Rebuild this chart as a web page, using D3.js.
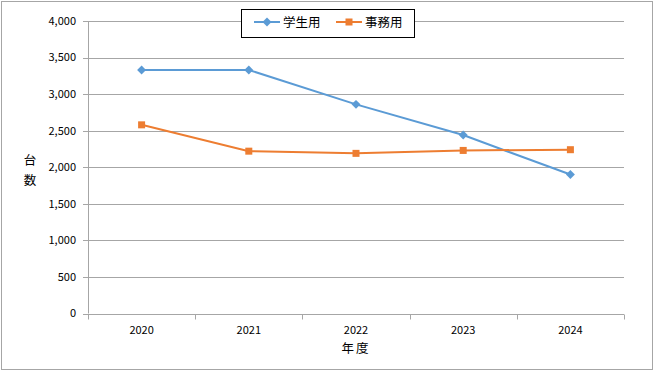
<!DOCTYPE html>
<html>
<head>
<meta charset="utf-8">
<script src="https://cdn.jsdelivr.net/npm/d3@7"></script>
<style>
    body { margin: 0; background: #fff; }
    svg { display: block; }
    text { font-family: "Noto Sans CJK JP", "Noto Sans", sans-serif; fill: #000; }
</style>
</head>
<body>
<div id="chart"></div>
<script>
const years = ["2020", "2021", "2022", "2023", "2024"];
const studentValues = [3330, 3330, 2860, 2440, 1900];
const officeValues = [2580, 2220, 2190, 2230, 2240];
const yTicks = [0, 500, 1000, 1500, 2000, 2500, 3000, 3500, 4000];
const seriesNames = ["学生用", "事務用"];

const width = 654;
const height = 371;
const plot = { left: 88, right: 624, top: 21, bottom: 313.5 };
const gridColor = "#a6a6a6";
const blue = "#5b9bd5";
const orange = "#ed7d31";

const svg = d3.select("#chart")
    .append("svg")
    .attr("width", width)
    .attr("height", height);

// outer frame
svg.append("rect")
    .attr("x", 1.5).attr("y", 1.5)
    .attr("width", width - 3).attr("height", height - 3)
    .attr("fill", "#fff")
    .attr("stroke", "#a6a6a6");

const x = d3.scaleBand()
    .domain(years)
    .range([plot.left, plot.right]);

const y = d3.scaleLinear()
    .domain([0, 4000])
    .range([plot.bottom, plot.top]);

// gridlines
svg.append("g")
    .selectAll("line")
    .data(yTicks)
    .enter()
    .append("line")
    .attr("x1", plot.left - 5)
    .attr("x2", plot.right)
    .attr("y1", d => Math.round(y(d)) + 0.5)
    .attr("y2", d => Math.round(y(d)) + 0.5)
    .attr("stroke", gridColor);

// y axis line
svg.append("line")
    .attr("x1", plot.left + 0.5).attr("x2", plot.left + 0.5)
    .attr("y1", y(4000)).attr("y2", y(0))
    .attr("stroke", gridColor);

// y tick labels
svg.append("g")
    .selectAll("text")
    .data(yTicks)
    .enter()
    .append("text")
    .attr("x", plot.left - 12)
    .attr("y", d => y(d))
    .attr("dy", "0.35em")
    .attr("text-anchor", "end")
    .attr("font-size", 11)
    .text(d => d3.format(",")(d));

// x axis with boundary ticks
const xAxisY = Math.round(y(0)) + 0.5;
svg.append("line")
    .attr("x1", plot.left).attr("x2", plot.right)
    .attr("y1", xAxisY).attr("y2", xAxisY)
    .attr("stroke", gridColor);

const boundaries = years.map(d => x(d)).concat([x(years[years.length - 1]) + x.bandwidth()]);
svg.append("g")
    .selectAll("line")
    .data(boundaries)
    .enter()
    .append("line")
    .attr("x1", d => Math.round(d) + 0.5)
    .attr("x2", d => Math.round(d) + 0.5)
    .attr("y1", xAxisY)
    .attr("y2", xAxisY + 5)
    .attr("stroke", gridColor);

svg.append("g")
    .selectAll("text")
    .data(years)
    .enter()
    .append("text")
    .attr("x", d => x(d) + x.bandwidth() / 2)
    .attr("y", 334)
    .attr("text-anchor", "middle")
    .attr("font-size", 11)
    .text(d => d);

// axis titles
svg.append("text")
    .attr("x", 356)
    .attr("y", 353)
    .attr("text-anchor", "middle")
    .attr("font-size", 12.5)
    .attr("letter-spacing", 2)
    .text("年度");

svg.append("text")
    .attr("x", 30).attr("y", 165)
    .attr("text-anchor", "middle")
    .attr("font-size", 12.5)
    .text("台");
svg.append("text")
    .attr("x", 30).attr("y", 185)
    .attr("text-anchor", "middle")
    .attr("font-size", 12.5)
    .text("数");

// series
const cx = d => x(d) + x.bandwidth() / 2;
const line = d3.line()
    .x(d => cx(d.year))
    .y(d => y(d.value));

const studentData = years.map((yr, i) => ({ year: yr, value: studentValues[i] }));
const officeData = years.map((yr, i) => ({ year: yr, value: officeValues[i] }));

// Excel-style diamond: a square turned 45 degrees
const diamond = d3.symbol().type(d3.symbolSquare).size(40);

svg.append("path")
    .datum(studentData)
    .attr("d", line)
    .attr("fill", "none")
    .attr("stroke", blue)
    .attr("stroke-width", 2);

svg.append("path")
    .datum(officeData)
    .attr("d", line)
    .attr("fill", "none")
    .attr("stroke", orange)
    .attr("stroke-width", 2);

svg.append("g")
    .selectAll("path")
    .data(studentData)
    .enter()
    .append("path")
    .attr("transform", d => `translate(${cx(d.year)},${y(d.value)}) rotate(45)`)
    .attr("d", diamond)
    .attr("fill", blue);

svg.append("g")
    .selectAll("rect")
    .data(officeData)
    .enter()
    .append("rect")
    .attr("x", d => cx(d.year) - 3.5)
    .attr("y", d => y(d.value) - 3.5)
    .attr("width", 7)
    .attr("height", 7)
    .attr("fill", orange);

// legend
const legend = svg.append("g");
legend.append("rect")
    .attr("x", 241.5).attr("y", 9.5)
    .attr("width", 173).attr("height", 28)
    .attr("fill", "#fff")
    .attr("stroke", "#000");

const legendItems = [
    { name: seriesNames[0], color: blue, x0: 254, shape: "diamond" },
    { name: seriesNames[1], color: orange, x0: 336, shape: "square" }
];
const ly = 22;
legendItems.forEach(item => {
    legend.append("line")
        .attr("x1", item.x0).attr("x2", item.x0 + 26)
        .attr("y1", ly).attr("y2", ly)
        .attr("stroke", item.color)
        .attr("stroke-width", 2);
    if (item.shape === "diamond") {
        legend.append("path")
            .attr("transform", `translate(${item.x0 + 13},${ly}) rotate(45)`)
            .attr("d", diamond)
            .attr("fill", item.color);
    } else {
        legend.append("rect")
            .attr("x", item.x0 + 9.5).attr("y", ly - 3.5)
            .attr("width", 7).attr("height", 7)
            .attr("fill", item.color);
    }
    legend.append("text")
        .attr("x", item.x0 + 29)
        .attr("y", ly)
        .attr("dy", "0.36em")
        .attr("font-size", 12.5)
        .text(item.name);
});
</script>
</body>
</html>
